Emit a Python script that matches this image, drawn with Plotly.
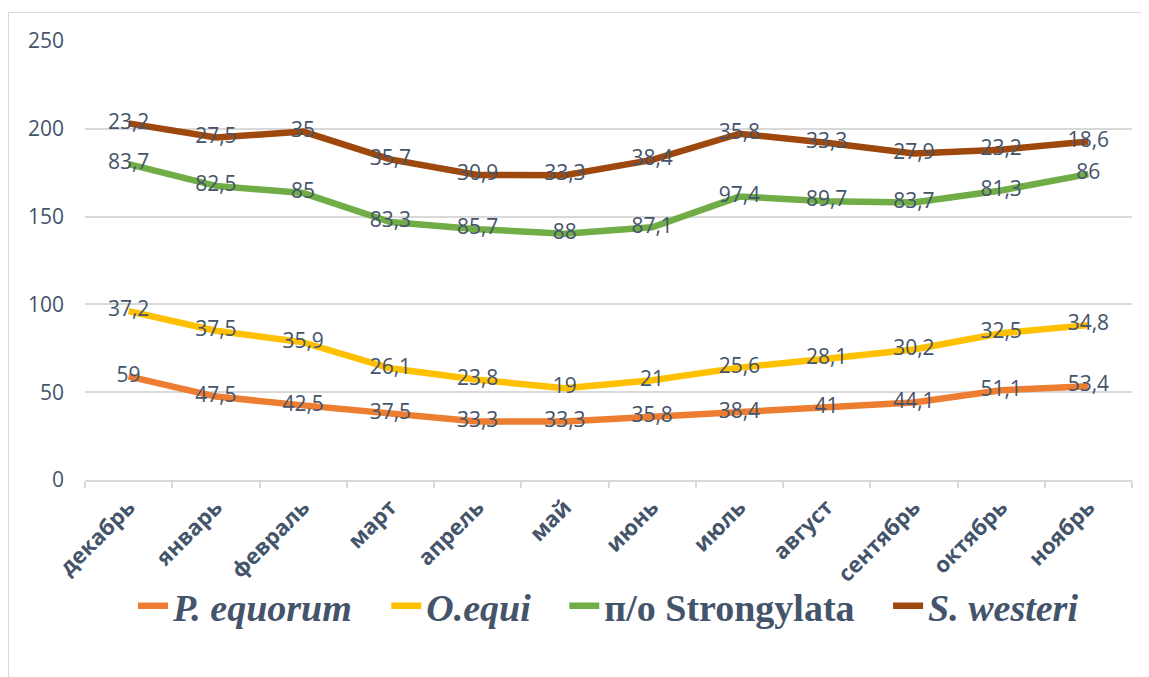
import numpy as np
import plotly.graph_objects as go

months = ["декабрь", "январь", "февраль", "март", "апрель", "май",
          "июнь", "июль", "август", "сентябрь", "октябрь", "ноябрь"]
p_equorum = [59, 47.5, 42.5, 37.5, 33.3, 33.3, 35.8, 38.4, 41, 44.1, 51.1, 53.4]
o_equi = [37.2, 37.5, 35.9, 26.1, 23.8, 19, 21, 25.6, 28.1, 30.2, 32.5, 34.8]
strongylata = [83.7, 82.5, 85, 83.3, 85.7, 88, 87.1, 97.4, 89.7, 83.7, 81.3, 86]
s_westeri = [23.2, 27.5, 35, 35.7, 30.9, 33.3, 38.4, 35.8, 33.3, 27.9, 23.2, 18.6]

series = [
    ("<b><i>P. equorum</i></b>&nbsp;&nbsp;&nbsp;", p_equorum, "#ED7D31"),
    ("<b><i>O.equi</i></b>&nbsp;&nbsp;&nbsp;", o_equi, "#FFC000"),
    ("<b>п/о Strongylata</b>&nbsp;&nbsp;&nbsp;", strongylata, "#70AD47"),
    ("<b><i>S. westeri</i></b>", s_westeri, "#9E480E"),
]

# page body has an 8px margin, so the figure starts at (8, 8)
OFF = 8
W, H = 1149 - OFF, 677 - OFF
L, T = 85 - OFF, 41 - OFF
R = W - (1132 - OFF)
B = H - (480 - OFF)
pw, ph = W - L - R, H - T - B

fig = go.Figure()
cum = np.zeros(len(months))
for name, vals, color in series:
    cum = cum + np.array(vals)
    fig.add_trace(go.Scatter(
        x=months, y=cum, name=name, mode="lines+text",
        line=dict(color=color, width=6.5),
        text=[f"{v:g}".replace(".", ",") for v in vals],
        textposition="middle center",
        textfont=dict(family="Open Sans", size=21, color="#44546A"),
        cliponaxis=False,
    ))

def px_x(x):
    return (x - OFF - L) / pw

def px_y(y):
    return (H - B - (y - OFF)) / ph

# outer chart border (page coords: left 8, top 12, extends past right/bottom)
fig.add_shape(type="rect", xref="paper", yref="paper",
              x0=px_x(8.5), x1=px_x(1200), y0=px_y(720), y1=px_y(12.5),
              line=dict(color="#D9D9D9", width=1), fillcolor="rgba(0,0,0,0)", layer="below")

fig.update_layout(
    width=W, height=H,
    margin=dict(l=L, r=R, t=T, b=B),
    paper_bgcolor="white", plot_bgcolor="white",
    showlegend=True,
    legend=dict(orientation="h", x=0.5, xanchor="center", y=px_y(606), yanchor="middle",
                font=dict(family="Liberation Serif", size=38, color="#44546A"),
                bgcolor="rgba(0,0,0,0)", tracegroupgap=0),
    xaxis=dict(type="category", tickangle=-45, showgrid=False,
               showline=True, linecolor="#D9D9D9", linewidth=1.5,
               ticks="outside", tickson="boundaries", ticklen=6, tickcolor="#D9D9D9", tickwidth=1.5,
               tickfont=dict(family="Open Sans", size=22, color="#44546A", weight="bold"),
               ticklabelstandoff=4,
               range=[-0.5, 11.5]),
    yaxis=dict(range=[0, 250], tickvals=[0, 50, 100, 150, 200, 250],
               showgrid=True, gridcolor="#D9D9D9", gridwidth=1.5, zeroline=False,
               showline=False, ticklabelstandoff=20,
               tickfont=dict(family="Open Sans", size=21, color="#44546A")),
)

fig.write_html("out.html")
